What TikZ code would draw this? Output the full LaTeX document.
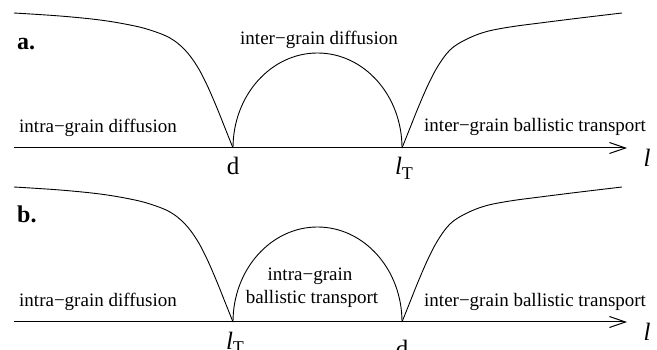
\documentclass[tikz,border=0pt]{standalone}
\usepackage{fontspec}
\setmainfont{Liberation Serif}
\usetikzlibrary{arrows.meta}
\newcommand\mycurves{%
  \draw[curve] plot[smooth,tension=0.6] coordinates {(14,13) (60,16) (100,20) (130,25) (150,30) (170,38) (185,50) (197,66) (207,85) (217,108) (225,128) (233,148)};
  \draw[curve] (233,148) arc[start angle=180,end angle=0,x radius=84.5,y radius=-95];
  \draw[curve] plot[smooth,tension=0.6] coordinates {(402,148) (410,128) (418,108) (428,85) (438,66) (450,50) (465,40) (485,32) (510,27) (540,23) (580,18) (622,13)};
}
\newcommand\lT{\textit{l}\raisebox{-0.35ex}{\fontsize{18}{20}\selectfont T}}
\begin{document}
\begin{tikzpicture}[x=1pt,y=-1pt,
  curve/.style={line width=0.9pt, black},
  axis/.style={line width=1pt, -{Straight Barb[length=16pt,width=11pt,line width=1pt]}},
  lbl/.style={font=\fontsize{19}{22}\selectfont, inner sep=0pt},
  tick/.style={font=\fontsize{25}{28}\selectfont, inner sep=0pt, anchor=base},
  panel/.style={font=\fontsize{24}{28}\selectfont\bfseries, inner sep=0pt, anchor=base west}]
\useasboundingbox (0,0) rectangle (657,350);
% panel a
\begin{scope}
  \coordinate (a0) at (14,148);
  \coordinate (a1) at (627,148);
  \draw[axis] (a0) -- (a1);
  \mycurves
  \node[panel] (alab) at (17,50) {a.};
  \node[lbl, anchor=base] (ainter) at (319,45) {inter−grain diffusion};
  \node[lbl, anchor=base west] (aintra) at (19,133) {intra−grain diffusion};
  \node[lbl, anchor=base west] (aball) at (424,132) {inter−grain ballistic transport};
  \node[tick] (ad) at (233,175) {d};
  \node[tick] (alt) at (404,175) {\lT};
  \node[tick] (al) at (647,167) {\textit{l}};
\end{scope}
% panel b
\begin{scope}[yshift=-174pt]
  \coordinate (b0) at (14,148);
  \coordinate (b1) at (627,148);
  \draw[axis] (b0) -- (b1);
  \mycurves
  \node[panel] (blab) at (17,49) {b.};
  \node[lbl, anchor=base] (bintra1) at (310,106) {intra−grain};
  \node[lbl, anchor=base] (bintra2) at (312,130) {ballistic transport};
  \node[lbl, anchor=base west] (bintra) at (19,133) {intra−grain diffusion};
  \node[lbl, anchor=base west] (bball) at (424,132) {inter−grain ballistic transport};
  \node[tick] (blt) at (235,175) {\lT};
  \node[tick] (bd) at (402,183) {d};
  \node[tick] (bl) at (647,167) {\textit{l}};
\end{scope}
\end{tikzpicture}
\end{document}
